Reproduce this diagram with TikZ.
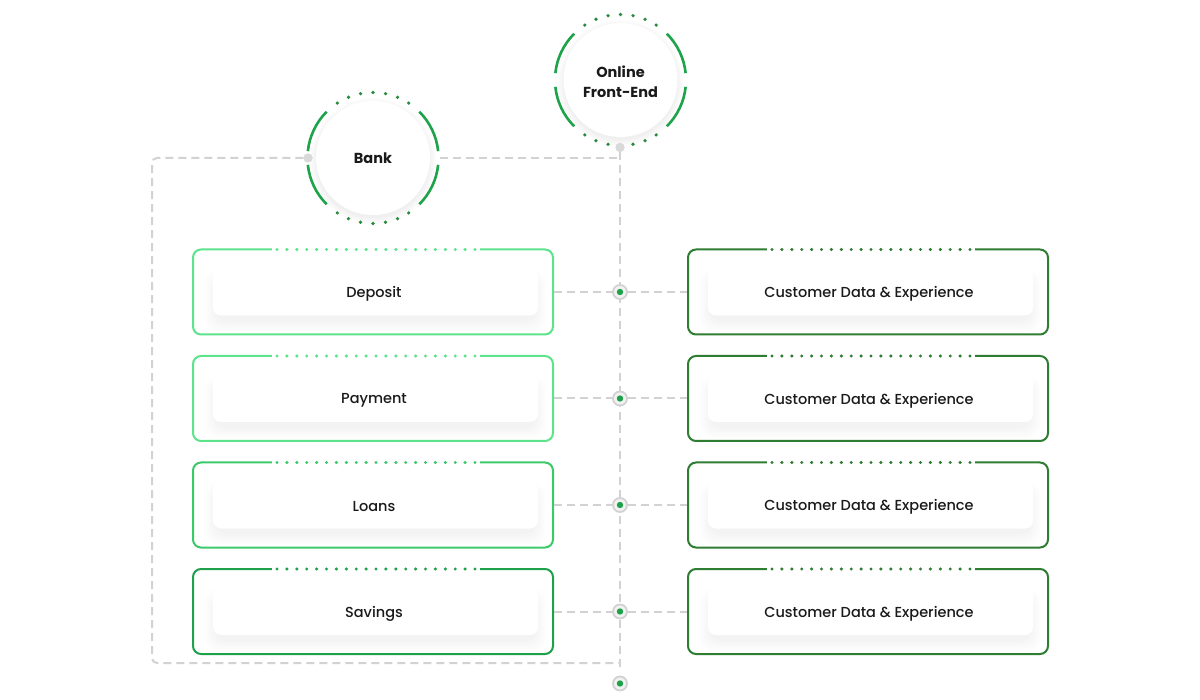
\documentclass[tikz,border=0pt]{standalone}
\usepackage{fontspec}
\setmainfont{Poppins}
\newfontfamily\medfont{Poppins Medium}
\usetikzlibrary{calc}
\definecolor{lgA}{HTML}{5CE38B}
\definecolor{lgB}{HTML}{3CC96A}
\definecolor{lgC}{HTML}{1FA04A}
\definecolor{dg}{HTML}{2E7D32}
\definecolor{arcg}{HTML}{1FA34A}
\definecolor{dotg}{HTML}{2A8A3E}
\definecolor{dashg}{HTML}{D2D2D2}
\definecolor{txt}{HTML}{1A1A1A}
\tikzset{
  conn/.style={draw=dashg, line width=2pt, dash pattern=on 8pt off 5pt},
  boxframe/.style={draw, line width=2pt, rounded corners=8pt, minimum width=360pt, minimum height=85pt, inner sep=0pt},
  boxtext/.style={text=txt, font=\medfont\fontsize{14.5}{17}\selectfont},
  circtext/.style={text=txt, font=\bfseries\fontsize{14.5}{20}\selectfont, align=center},
  jdot/.style={circle, draw=dashg, line width=1.8pt, fill=white!95!black, minimum size=14pt, inner sep=0pt},
  gdot/.style={circle, fill=dashg!85!white, minimum size=9pt, inner sep=0pt},
}
\newcommand\mkbox[5]{% name, cx, cy, colour, text
  \foreach \s in {0,2,4,6,8,10} {
    \fill[black, opacity=0.006, rounded corners=12pt] (#2-158-\s, #3-18-\s+6) rectangle (#2+163+\s, #3+23.5+\s+6);
  }
  \fill[white, rounded corners=8pt] (#2-160, #3-23.5) rectangle (#2+165, #3+23.5);
  \node[boxframe, draw=#4] (#1) at (#2,#3) {};
  \fill[white] (#2-101, #3-44) rectangle (#2+107, #3-41);
  \foreach \k in {0,...,20} {
    \fill[#4] (#2-96+9.9*\k, #3-42.5) circle[radius=1.7pt];
  }
  \node[boxtext] (#1t) at (#2+1, #3+2) {#5};
}
\newcommand\mkcirc[2]{% name, centre coordinate name
  \foreach \s in {0,1.5,3,4.5,6} {
    \fill[black, opacity=0.012] ($(#2)+(0,-3pt)$) circle[radius=57pt+\s pt];
  }
  \fill[white] (#2) circle[radius=57pt];
  \foreach \a/\b in {6/45, 135/174, 186/225, 315/354} {
    \draw[arcg, line width=2.6pt] ($(#2)+(\a:65.5pt)$) arc[start angle=\a, end angle=\b, radius=65.5pt];
  }
}
\begin{document}
\begin{tikzpicture}[x=1pt, y=-1pt]
\useasboundingbox (0,0) rectangle (1200,700);
\fill[white] (0,0) rectangle (1200,700);

% reference points
\coordinate (bankc) at (373,158);
\coordinate (fec) at (620.5,80);
\coordinate (tl) at (152,158);
\coordinate (bl) at (152,663);
\coordinate (br) at (620,663);
\coordinate (vend) at (620,669);
\coordinate (tr) at (620,158);
\coordinate (bankr) at (440,158);

% junction nodes
\node[gdot] (bankdot) at (308,158) {};
\node[gdot] (fedot) at (620,147.5) {};

% dashed connectors (behind)
\draw[conn, rounded corners=5pt] (bankdot) -- (tl) -- (bl) -- (br);
\draw[conn] (bankr) -- (tr);
\draw[conn] (fedot) -- (vend);

% circles
\mkcirc{bank}{bankc}
\foreach \a in {57,68,79,90,101,112,123} {
  \fill[dotg] ($(bankc)+(\a:65.5pt)$) circle[radius=1.8pt];
  \fill[dotg] ($(bankc)+(-\a:65.5pt)$) circle[radius=1.8pt];
}
\node[circtext] (banklabel) at (bankc) {Bank};
\node[gdot] at (bankdot) {};

\mkcirc{fe}{fec}
\foreach \a in {57,68,79,90,101,112,123} {
  \fill[dotg] ($(fec)+(\a:65.5pt)$) circle[radius=1.8pt];
}
\foreach \a in {57,68,79,101,112,123} {
  \fill[dotg] ($(fec)+(-\a:65.5pt)$) circle[radius=1.8pt];
}
\node[circtext] (felabel) at (620.5,81.5) {Online\\Front-End};
\node[gdot] at (fedot) {};

% boxes
\mkbox{dep}{373}{292}{lgA}{Deposit}
\mkbox{pay}{373}{398.5}{lgA}{Payment}
\mkbox{loa}{373}{505}{lgB}{Loans}
\mkbox{sav}{373}{611.5}{lgC}{Savings}
\mkbox{cA}{868}{292}{dg}{Customer Data \& Experience}
\mkbox{cB}{868}{398.5}{dg}{Customer Data \& Experience}
\mkbox{cC}{868}{505}{dg}{Customer Data \& Experience}
\mkbox{cD}{868}{611.5}{dg}{Customer Data \& Experience}

% junction dots and horizontal connectors
\foreach \n/\y/\l/\r in {1/292/dep/cA, 2/398.5/pay/cB, 3/505/loa/cC, 4/611.5/sav/cD} {
  \node[jdot] (j\n) at (620,\y) {};
  \fill[lgC] (j\n) circle[radius=3.2pt];
  \draw[conn] (\l.east) -- (j\n.west);
  \draw[conn] (j\n.east) -- (\r.west);
}
\node[jdot] (jend) at (620,683.5) {};
\fill[lgC] (jend) circle[radius=3.2pt];
\end{tikzpicture}
\end{document}
